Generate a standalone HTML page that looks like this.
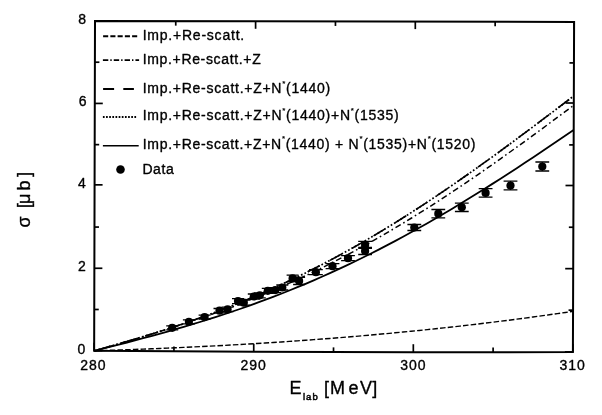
<!DOCTYPE html>
<html><head><meta charset="utf-8"><title>chart</title>
<style>html,body{margin:0;padding:0;background:#fff;}body{width:602px;height:415px;position:relative;overflow:hidden;font-family:"Liberation Sans",sans-serif;}svg{will-change:transform;filter:grayscale(1)}</style>
</head><body>
<svg width="602" height="415" viewBox="0 0 602 415" style="position:absolute;left:0;top:0">
<rect width="602" height="415" fill="#fff"/>
<g fill="none" stroke="#000">
<path d="M94.40,350.80 L102.52,350.55 L110.64,350.29 L118.77,350.01 L126.89,349.73 L135.01,349.43 L143.13,349.13 L151.25,348.81 L159.38,348.48 L167.50,348.13 L175.62,347.78 L183.74,347.41 L191.86,347.03 L199.99,346.64 L208.11,346.23 L216.23,345.81 L224.35,345.38 L232.47,344.93 L240.60,344.47 L248.72,343.99 L256.84,343.51 L264.96,343.00 L273.08,342.48 L281.21,341.95 L289.33,341.40 L297.45,340.84 L305.57,340.26 L313.69,339.67 L321.82,339.06 L329.94,338.43 L338.06,337.79 L346.18,337.13 L354.31,336.45 L362.43,335.76 L370.55,335.05 L378.67,334.33 L386.79,333.58 L394.92,332.82 L403.04,332.04 L411.16,331.25 L419.28,330.43 L427.40,329.60 L435.53,328.75 L443.65,327.88 L451.77,326.99 L459.89,326.08 L468.01,325.15 L476.14,324.20 L484.26,323.24 L492.38,322.25 L500.50,321.24 L508.62,320.22 L516.75,319.17 L524.87,318.10 L532.99,317.01 L541.11,315.90 L549.23,314.77 L557.36,313.62 L565.48,312.45 L573.60,311.25" stroke-width="1.4" stroke-dasharray="5.5 2.2"/>
<path d="M94.40,350.80 L102.52,348.47 L110.64,346.14 L118.77,343.78 L126.89,341.41 L135.01,339.01 L143.13,336.59 L151.25,334.13 L159.38,331.62 L167.50,329.08 L175.62,326.48 L183.74,323.84 L191.86,321.13 L199.99,318.37 L208.11,315.54 L216.23,312.65 L224.35,309.69 L232.47,306.65 L240.60,303.54 L248.72,300.35 L256.84,297.08 L264.96,293.73 L273.08,290.30 L281.21,286.78 L289.33,283.17 L297.45,279.48 L305.57,275.69 L313.69,271.82 L321.82,267.86 L329.94,263.80 L338.06,259.65 L346.18,255.41 L354.31,251.08 L362.43,246.66 L370.55,242.15 L378.67,237.55 L386.79,232.85 L394.92,228.07 L403.04,223.21 L411.16,218.26 L419.28,213.22 L427.40,208.10 L435.53,202.91 L443.65,197.63 L451.77,192.29 L459.89,186.86 L468.01,181.37 L476.14,175.82 L484.26,170.20 L492.38,164.52 L500.50,158.79 L508.62,153.00 L516.75,147.17 L524.87,141.29 L532.99,135.38 L541.11,129.43 L549.23,123.45 L557.36,117.44 L565.48,111.42 L573.60,105.38" stroke-width="1.5" stroke-dasharray="6 3 1.6 3" stroke-dashoffset="0"/>
<path d="M94.40,350.80 L102.52,348.53 L110.64,346.23 L118.77,343.90 L126.89,341.53 L135.01,339.12 L143.13,336.66 L151.25,334.16 L159.38,331.60 L167.50,328.98 L175.62,326.30 L183.74,323.56 L191.86,320.74 L199.99,317.86 L208.11,314.90 L216.23,311.87 L224.35,308.76 L232.47,305.56 L240.60,302.29 L248.72,298.93 L256.84,295.48 L264.96,291.94 L273.08,288.32 L281.21,284.60 L289.33,280.79 L297.45,276.89 L305.57,272.90 L313.69,268.82 L321.82,264.64 L329.94,260.36 L338.06,255.99 L346.18,251.53 L354.31,246.98 L362.43,242.34 L370.55,237.60 L378.67,232.78 L386.79,227.86 L394.92,222.86 L403.04,217.78 L411.16,212.60 L419.28,207.35 L427.40,202.02 L435.53,196.61 L443.65,191.13 L451.77,185.57 L459.89,179.95 L468.01,174.26 L476.14,168.51 L484.26,162.70 L492.38,156.83 L500.50,150.91 L508.62,144.95 L516.75,138.94 L524.87,132.89 L532.99,126.81 L541.11,120.70 L549.23,114.57 L557.36,108.41 L565.48,102.25 L573.60,96.07" stroke-width="1.7" stroke-dasharray="1.7 2.1" stroke-dashoffset="0"/>
<path d="M94.40,350.80 L102.52,348.53 L110.64,346.23 L118.77,343.90 L126.89,341.53 L135.01,339.12 L143.13,336.66 L151.25,334.16 L159.38,331.60 L167.50,328.98 L175.62,326.30 L183.74,323.56 L191.86,320.74 L199.99,317.86 L208.11,314.90 L216.23,311.87 L224.35,308.76 L232.47,305.56 L240.60,302.29 L248.72,298.93 L256.84,295.48 L264.96,291.94 L273.08,288.32 L281.21,284.60 L289.33,280.79 L297.45,276.89 L305.57,272.90 L313.69,268.82 L321.82,264.64 L329.94,260.36 L338.06,255.99 L346.18,251.53 L354.31,246.98 L362.43,242.34 L370.55,237.60 L378.67,232.78 L386.79,227.86 L394.92,222.86 L403.04,217.78 L411.16,212.60 L419.28,207.35 L427.40,202.02 L435.53,196.61 L443.65,191.13 L451.77,185.57 L459.89,179.95 L468.01,174.26 L476.14,168.51 L484.26,162.70 L492.38,156.83 L500.50,150.91 L508.62,144.95 L516.75,138.94 L524.87,132.89 L532.99,126.81 L541.11,120.70 L549.23,114.57 L557.36,108.41 L565.48,102.25 L573.60,96.07" stroke-width="1.6" stroke-dasharray="13.5 11.5" stroke-dashoffset="-2.9"/>
<path d="M94.40,350.80 L102.52,348.75 L110.64,346.69 L118.77,344.61 L126.89,342.51 L135.01,340.39 L143.13,338.23 L151.25,336.04 L159.38,333.82 L167.50,331.55 L175.62,329.24 L183.74,326.88 L191.86,324.46 L199.99,322.00 L208.11,319.47 L216.23,316.89 L224.35,314.24 L232.47,311.52 L240.60,308.74 L248.72,305.89 L256.84,302.96 L264.96,299.96 L273.08,296.89 L281.21,293.74 L289.33,290.51 L297.45,287.20 L305.57,283.81 L313.69,280.34 L321.82,276.79 L329.94,273.16 L338.06,269.44 L346.18,265.64 L354.31,261.76 L362.43,257.79 L370.55,253.75 L378.67,249.62 L386.79,245.41 L394.92,241.12 L403.04,236.75 L411.16,232.30 L419.28,227.77 L427.40,223.17 L435.53,218.50 L443.65,213.75 L451.77,208.93 L459.89,204.05 L468.01,199.09 L476.14,194.08 L484.26,189.00 L492.38,183.87 L500.50,178.68 L508.62,173.44 L516.75,168.15 L524.87,162.81 L532.99,157.44 L541.11,152.02 L549.23,146.57 L557.36,141.09 L565.48,135.58 L573.60,130.06" stroke-width="1.8"/>
</g>
<g stroke="#000" stroke-width="1.3" fill="#000">
<circle cx="172.2" cy="327.8" r="4.1" stroke="none"/>
<path d="M172.2,325.8 V329.8 M166.2,325.8 H178.2 M166.2,329.8 H178.2" fill="none"/>
<circle cx="188.9" cy="321.8" r="4.1" stroke="none"/>
<path d="M188.9,319.8 V323.8 M182.9,319.8 H194.9 M182.9,323.8 H194.9" fill="none"/>
<circle cx="204.6" cy="317.1" r="4.1" stroke="none"/>
<path d="M204.6,315.1 V319.1 M198.6,315.1 H210.6 M198.6,319.1 H210.6" fill="none"/>
<circle cx="219.5" cy="310.7" r="4.1" stroke="none"/>
<path d="M219.5,308.5 V312.9 M213.5,308.5 H225.5 M213.5,312.9 H225.5" fill="none"/>
<circle cx="227.6" cy="309.4" r="4.1" stroke="none"/>
<path d="M227.6,307.2 V311.59999999999997 M221.6,307.2 H233.6 M221.6,311.59999999999997 H233.6" fill="none"/>
<circle cx="238.0" cy="301.1" r="4.1" stroke="none"/>
<path d="M238.0,298.6 V303.6 M232.0,298.6 H244.0 M232.0,303.6 H244.0" fill="none"/>
<circle cx="243.8" cy="302.7" r="4.1" stroke="none"/>
<path d="M243.8,300.2 V305.2 M237.8,300.2 H249.8 M237.8,305.2 H249.8" fill="none"/>
<circle cx="253.8" cy="296.5" r="4.1" stroke="none"/>
<path d="M253.8,294.0 V299.0 M247.8,294.0 H259.8 M247.8,299.0 H259.8" fill="none"/>
<circle cx="259.8" cy="295.3" r="4.1" stroke="none"/>
<path d="M259.8,292.8 V297.8 M253.8,292.8 H265.8 M253.8,297.8 H265.8" fill="none"/>
<circle cx="267.8" cy="290.8" r="4.1" stroke="none"/>
<path d="M267.8,288.3 V293.3 M261.8,288.3 H273.8 M261.8,293.3 H273.8" fill="none"/>
<circle cx="275.3" cy="290.1" r="4.1" stroke="none"/>
<path d="M275.3,287.6 V292.6 M269.3,287.6 H281.3 M269.3,292.6 H281.3" fill="none"/>
<circle cx="282.3" cy="287.5" r="4.1" stroke="none"/>
<path d="M282.3,285.0 V290.0 M276.3,285.0 H288.3 M276.3,290.0 H288.3" fill="none"/>
<circle cx="292.6" cy="278.4" r="4.1" stroke="none"/>
<path d="M292.6,275.09999999999997 V281.7 M286.6,275.09999999999997 H298.6 M286.6,281.7 H298.6" fill="none"/>
<circle cx="299.1" cy="280.9" r="4.1" stroke="none"/>
<path d="M299.1,277.29999999999995 V284.5 M293.1,277.29999999999995 H305.1 M293.1,284.5 H305.1" fill="none"/>
<circle cx="315.9" cy="272.2" r="4.1" stroke="none"/>
<path d="M315.9,269.7 V274.7 M309.0,269.7 H322.79999999999995 M309.0,274.7 H322.79999999999995" fill="none"/>
<circle cx="332.5" cy="266.2" r="4.1" stroke="none"/>
<path d="M332.5,263.7 V268.7 M325.6,263.7 H339.4 M325.6,268.7 H339.4" fill="none"/>
<circle cx="348.0" cy="258.2" r="4.1" stroke="none"/>
<path d="M348.0,255.7 V260.7 M341.1,255.7 H354.9 M341.1,260.7 H354.9" fill="none"/>
<circle cx="365.1" cy="244.9" r="4.1" stroke="none"/>
<path d="M365.1,241.4 V248.4 M358.20000000000005,241.4 H372.0 M358.20000000000005,248.4 H372.0" fill="none"/>
<circle cx="365.1" cy="251.0" r="4.1" stroke="none"/>
<path d="M365.1,247.5 V254.5 M358.20000000000005,247.5 H372.0 M358.20000000000005,254.5 H372.0" fill="none"/>
<circle cx="414.3" cy="227.5" r="4.1" stroke="none"/>
<path d="M414.3,224.5 V230.5 M407.40000000000003,224.5 H421.2 M407.40000000000003,230.5 H421.2" fill="none"/>
<circle cx="438.3" cy="213.7" r="4.1" stroke="none"/>
<path d="M438.3,209.5 V217.89999999999998 M431.40000000000003,209.5 H445.2 M431.40000000000003,217.89999999999998 H445.2" fill="none"/>
<circle cx="461.8" cy="207.3" r="4.1" stroke="none"/>
<path d="M461.8,203.10000000000002 V211.5 M454.90000000000003,203.10000000000002 H468.7 M454.90000000000003,211.5 H468.7" fill="none"/>
<circle cx="485.6" cy="192.9" r="4.1" stroke="none"/>
<path d="M485.6,188.6 V197.20000000000002 M478.70000000000005,188.6 H492.5 M478.70000000000005,197.20000000000002 H492.5" fill="none"/>
<circle cx="510.5" cy="185.5" r="4.1" stroke="none"/>
<path d="M510.5,181.2 V189.8 M503.6,181.2 H517.4 M503.6,189.8 H517.4" fill="none"/>
<circle cx="542.3" cy="166.5" r="4.1" stroke="none"/>
<path d="M542.3,162.0 V171.0 M535.4,162.0 H549.1999999999999 M535.4,171.0 H549.1999999999999" fill="none"/>
</g>
<polygon points="95.0,21.0 574.1,21.9 572.9,351.9 493.0,352.20 413.0,352.20 333.0,351.97 254.0,351.75 174.0,351.23 94.15,350.7" fill="none" stroke="#000" stroke-width="2" stroke-linejoin="miter"/>
<g stroke="#000" stroke-width="1.7" fill="none">
<path d="M94.15,350.70 v-8.0"/>
<path d="M95.00,21.00 v7.5"/>
<path d="M173.94,351.22 v-4.6"/>
<path d="M175.75,21.15 v4.5"/>
<path d="M253.73,351.75 v-8.0"/>
<path d="M255.60,21.30 v7.5"/>
<path d="M333.52,351.98 v-4.6"/>
<path d="M335.45,21.45 v4.5"/>
<path d="M413.32,352.20 v-8.0"/>
<path d="M415.30,21.60 v7.5"/>
<path d="M493.11,352.20 v-4.6"/>
<path d="M495.15,21.75 v4.5"/>
<path d="M572.90,351.90 v-8.0"/>
<path d="M574.10,21.90 v7.5"/>
<path d="M94.15,350.70 h8"/>
<path d="M572.90,351.90 h-8"/>
<path d="M94.26,309.49 h4.5"/>
<path d="M573.05,310.15 h-4.5"/>
<path d="M94.36,268.27 h8"/>
<path d="M573.20,268.65 h-8"/>
<path d="M94.47,227.06 h4.5"/>
<path d="M573.35,227.25 h-4.5"/>
<path d="M94.58,184.85 h8"/>
<path d="M573.50,185.50 h-8"/>
<path d="M94.68,144.64 h4.5"/>
<path d="M573.65,144.90 h-4.5"/>
<path d="M94.79,103.43 h8"/>
<path d="M573.80,103.00 h-8"/>
<path d="M94.89,62.21 h4.5"/>
<path d="M573.95,62.90 h-4.5"/>
<path d="M95.00,21.00 h8"/>
<path d="M574.10,21.90 h-8"/>
</g>
<g font-family="Liberation Sans, sans-serif" fill="#000" stroke="#000" stroke-width="0.35" stroke-linejoin="round">
<text x="77.4" y="354.4" font-size="14" letter-spacing="0" >0</text>
<text x="77.9" y="271.0" font-size="14" letter-spacing="0" >2</text>
<text x="78.1" y="188.0" font-size="14" letter-spacing="0" >4</text>
<text x="78.7" y="105.9" font-size="14" letter-spacing="0" >6</text>
<text x="78.2" y="24.3" font-size="14" letter-spacing="0" >8</text>
<text x="80.3" y="369.8" font-size="14" letter-spacing="1.0" >280</text>
<text x="240.4" y="370.0" font-size="14" letter-spacing="1.0" >290</text>
<text x="400.2" y="370.2" font-size="14" letter-spacing="1.0" >300</text>
<text x="559.5" y="370.4" font-size="14" letter-spacing="1.0" >310</text>
<text x="142.7" y="39.5" font-size="14" letter-spacing="0.775" >Imp.+Re-scatt.</text>
<text x="142.7" y="64.1" font-size="14" letter-spacing="0.66" >Imp.+Re-scatt.+Z</text>
<text x="142.7" y="92.8" font-size="14" letter-spacing="0.727" >Imp.+Re-scatt.+Z+N<tspan font-size="8" dy="-7.3" stroke-width="0.2">*</tspan><tspan dy="7.3">(</tspan>1440)</text>
<text x="142.7" y="120.3" font-size="14" letter-spacing="0.73" >Imp.+Re-scatt.+Z+N<tspan font-size="8" dy="-7.3" stroke-width="0.2">*</tspan><tspan dy="7.3">(</tspan>1440)+N<tspan font-size="8" dy="-7.3" stroke-width="0.2">*</tspan><tspan dy="7.3">(</tspan>1535)</text>
<text x="142.7" y="148.7" font-size="14" letter-spacing="0.71" >Imp.+Re-scatt.+Z+N<tspan font-size="8" dy="-7.3" stroke-width="0.2">*</tspan><tspan dy="7.3">(</tspan>1440) + N<tspan font-size="8" dy="-7.3" stroke-width="0.2">*</tspan><tspan dy="7.3">(</tspan>1535)+N<tspan font-size="8" dy="-7.3" stroke-width="0.2">*</tspan><tspan dy="7.3">(</tspan>1520)</text>
<text x="142.4" y="173.6" font-size="14" letter-spacing="0.62" >Data</text>
<text x="289.6" y="394.0" font-size="18" letter-spacing="0" >E</text>
<text x="303.0" y="400.1" font-size="9.5" letter-spacing="1.0" stroke-width="0.5">lab</text>
<text x="324.0 330.1 348.4 359.9 372.3" y="394.0" font-size="18" letter-spacing="0" >[MeV]</text>
<g transform="translate(30.3,227.5) rotate(-90)">
<text x="0 12 19.5 23.5 36.9 50.5" y="0" font-size="18" letter-spacing="0" >σ [μb]</text>
</g>
</g>
<g stroke="#000" fill="none">
<path d="M103.1,36.3 H137.3" stroke-width="2.0" stroke-dasharray="5.1 2.15"/>
<path d="M102.9,60.05 H139.1" stroke-width="1.8" stroke-dasharray="5.4 2.0 1.4 2.05"/>
<path d="M103.1,89.0 H114.1 M123.3,89.0 H133.9" stroke-width="1.9"/>
<path d="M102.9,117.0 H137.3" stroke-width="1.9" stroke-dasharray="1.7 1.45"/>
<path d="M102.9,145.75 H138.7" stroke-width="1.5"/>
</g>
<circle cx="120.5" cy="169.5" r="4.3" fill="#000"/>
</svg>
</body></html>
